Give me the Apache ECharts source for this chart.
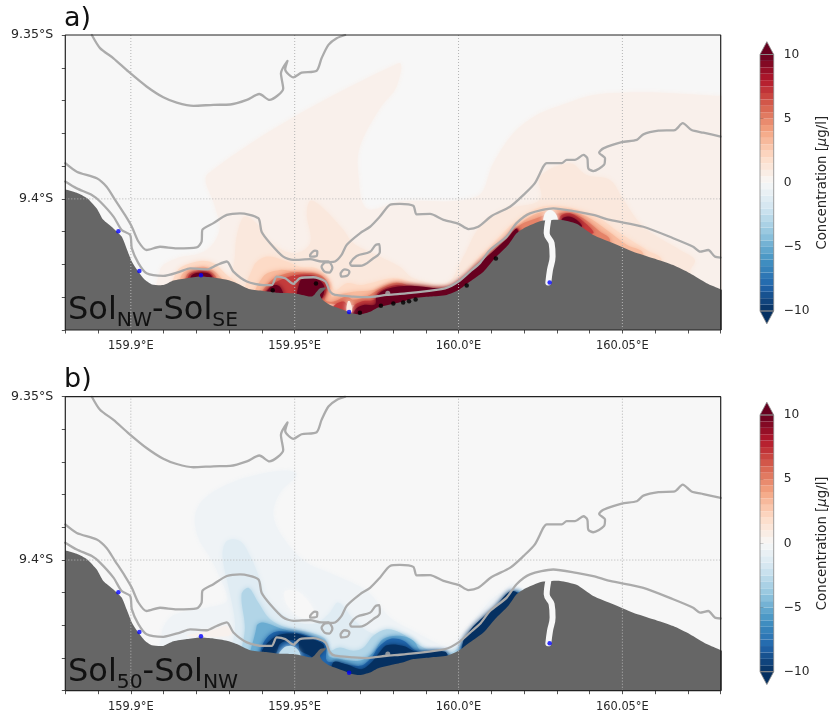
<!DOCTYPE html>
<html><head><meta charset="utf-8">
<script src="https://cdn.jsdelivr.net/npm/echarts@6/dist/echarts.min.js"></script>
<style>html,body{margin:0;padding:0;background:#fff}#c{width:832px;height:717px}</style>
</head><body><div id="c"></div><script>
const lonRange=[159.88,160.08], latRange=[-9.44,-9.35], tickStep=0.01;
const lonMajor=[159.9,159.95,160.0,160.05], lonMajorText=['159.9°E','159.95°E','160.0°E','160.05°E'];
const latMajor=[-9.35,-9.4], latMajorText=['9.35°S','9.4°S'];
const cbTicks=[-10,-5,0,5,10];
const cbEdges=[-10,-9.5,-9,-8.5,-8,-7.5,-7,-6.5,-6,-5.5,-5,-4.5,-4,-3.5,-3,-2.5,-2,-1.5,-1,-0.5,0,0.5,1,1.5,2,2.5,3,3.5,4,4.5,5,5.5,6,6.5,7,7.5,8,8.5,9,9.5,10];
const rampValues=[-10,-8,-6,-4,-2,0,2,4,6,8,10];
const rampColors=['#053061','#2166ac','#4393c3','#92c5de','#d1e5f0','#f7f7f7','#fddbc7','#f4a582','#d6604d','#b2182b','#67001f'];

const coast=[[159.87,-9.3965],[159.88,-9.3971],[159.8835,-9.3981],[159.8867,-9.3998],[159.8896,-9.4029],[159.8916,-9.4064],[159.8947,-9.409],[159.8972,-9.4115],[159.8987,-9.4151],[159.9003,-9.4191],[159.9023,-9.4222],[159.9043,-9.4247],[159.9064,-9.4261],[159.9099,-9.4263],[159.913,-9.4249],[159.9171,-9.4242],[159.9211,-9.4237],[159.9252,-9.424],[159.9293,-9.4247],[159.9323,-9.4257],[159.9364,-9.4276],[159.9404,-9.4281],[159.9445,-9.4286],[159.9496,-9.4288],[159.9537,-9.4296],[159.9552,-9.4298],[159.9562,-9.429],[159.9577,-9.4273],[159.9596,-9.4271],[159.9577,-9.4293],[159.9585,-9.4308],[159.9608,-9.4324],[159.9649,-9.4339],[159.9669,-9.4347],[159.9699,-9.4352],[159.973,-9.4344],[159.9755,-9.4331],[159.9801,-9.432],[159.9832,-9.4313],[159.9862,-9.4303],[159.9913,-9.4298],[159.9964,-9.4293],[160,-9.4278],[160.0035,-9.4252],[160.0076,-9.4222],[160.0111,-9.4181],[160.0152,-9.414],[160.0177,-9.4105],[160.0198,-9.409],[160.0238,-9.4072],[160.0259,-9.4066],[160.031,-9.4064],[160.036,-9.4076],[160.0411,-9.411],[160.0472,-9.4135],[160.0533,-9.4161],[160.0594,-9.4181],[160.0655,-9.4202],[160.0706,-9.4227],[160.0757,-9.4257],[160.08,-9.4276],[160.09,-9.433],[160.09,-9.45],[159.87,-9.45]];
const river=[[160.0274,-9.4064],[160.0269,-9.4105],[160.0284,-9.4135],[160.0287,-9.4176],[160.0279,-9.4217],[160.0274,-9.4255]];
const lineA=[[159.8881,-9.35],[159.8906,-9.354],[159.8947,-9.3571],[159.8993,-9.3612],[159.9048,-9.3657],[159.9099,-9.369],[159.914,-9.3706],[159.9191,-9.3716],[159.9252,-9.3713],[159.9303,-9.3712],[159.9354,-9.3698],[159.9392,-9.368],[159.9423,-9.3698],[159.9465,-9.3663],[159.9458,-9.3617],[159.9478,-9.3579],[159.9471,-9.3605],[159.9496,-9.3629],[159.9521,-9.3615],[159.9567,-9.3609],[159.9582,-9.3571],[159.9603,-9.353],[159.9628,-9.351],[159.9654,-9.35]];
const lineB=[[159.88,-9.3891],[159.8835,-9.3917],[159.8896,-9.3937],[159.8926,-9.3963],[159.8952,-9.4003],[159.8982,-9.4049],[159.9003,-9.4085],[159.9023,-9.413],[159.9048,-9.4156],[159.9089,-9.4146],[159.914,-9.4151],[159.9201,-9.4148],[159.9216,-9.413],[159.9218,-9.4095],[159.9252,-9.4074],[159.9293,-9.4049],[159.9333,-9.4044],[159.9389,-9.4059],[159.9399,-9.41],[159.9425,-9.4135],[159.9465,-9.4176],[159.9496,-9.4186],[159.9547,-9.4184],[159.9582,-9.4191],[159.9603,-9.4191],[159.9615,-9.421],[159.9606,-9.4225],[159.9591,-9.4222],[159.9582,-9.4207],[159.9593,-9.4194],[159.9623,-9.4191],[159.9643,-9.4171],[159.9659,-9.414],[159.9699,-9.4105],[159.973,-9.4085],[159.976,-9.4054],[159.9791,-9.4018],[159.9821,-9.4015],[159.9862,-9.4021],[159.9872,-9.4047],[159.9913,-9.4046],[159.9954,-9.4064],[160,-9.4076],[160.003,-9.4092],[160.006,-9.4085],[160.0101,-9.4052],[160.0157,-9.4024],[160.0198,-9.3988],[160.0233,-9.3952],[160.0259,-9.3901],[160.0269,-9.3891],[160.0315,-9.3891],[160.033,-9.3881],[160.0355,-9.3881],[160.0381,-9.3866],[160.0393,-9.3876],[160.0396,-9.3907],[160.0411,-9.3915],[160.0444,-9.3896],[160.0447,-9.3876],[160.0429,-9.3859],[160.0442,-9.3846],[160.0498,-9.3827],[160.0544,-9.382],[160.0564,-9.3803],[160.061,-9.3792],[160.066,-9.379],[160.0684,-9.3769],[160.0711,-9.379],[160.0747,-9.3798],[160.08,-9.381]];
const lineC=[[159.88,-9.3947],[159.8835,-9.3968],[159.8881,-9.3988],[159.8906,-9.4008],[159.8947,-9.4054],[159.8972,-9.4095],[159.8998,-9.411],[159.9003,-9.4151],[159.9023,-9.4196],[159.9048,-9.4227],[159.9099,-9.4235],[159.915,-9.4222],[159.9181,-9.4212],[159.9232,-9.4215],[159.9262,-9.4202],[159.9293,-9.4191],[159.9313,-9.4222],[159.9354,-9.4252],[159.9404,-9.4263],[159.943,-9.4263],[159.9445,-9.4237],[159.9471,-9.4242],[159.9496,-9.4259],[159.9516,-9.4242],[159.9557,-9.4239],[159.9593,-9.4252],[159.9608,-9.4283],[159.9623,-9.4293],[159.9679,-9.4298],[159.972,-9.43],[159.9781,-9.4293],[159.9821,-9.429],[159.9862,-9.4286],[159.9959,-9.4273],[160,-9.4252],[160.0035,-9.4222],[160.0065,-9.4196],[160.0096,-9.4156],[160.0147,-9.4115],[160.0177,-9.4074],[160.0218,-9.4044],[160.0289,-9.4029],[160.036,-9.4039],[160.0411,-9.4049],[160.0462,-9.4064],[160.0564,-9.4085],[160.0655,-9.412],[160.0716,-9.4146],[160.0737,-9.4161],[160.0762,-9.4156],[160.0782,-9.4176],[160.08,-9.4179]];
const island1=[[159.9547,-9.4171],[159.9562,-9.4158],[159.9569,-9.4161],[159.9567,-9.4174],[159.9547,-9.4176],[159.9547,-9.4171]];
const island2=[[159.9669,-9.4196],[159.9689,-9.4174],[159.973,-9.4161],[159.9748,-9.414],[159.9758,-9.4138],[159.976,-9.4161],[159.974,-9.4181],[159.9699,-9.4204],[159.9674,-9.4204],[159.9669,-9.4196]];
const island3=[[159.964,-9.4227],[159.9653,-9.4215],[159.9667,-9.4222],[159.9659,-9.4235],[159.9643,-9.4237],[159.964,-9.4227]];
const grayDots=[[159.9784,-9.4288]];
const blueDots=[[159.8962,-9.4099],[159.9026,-9.422],[159.9214,-9.4233],[159.9666,-9.4345],[160.0278,-9.4255]];
const blackDots=[[159.9433,-9.4279],[159.9565,-9.4258],[159.9699,-9.4347],[159.9763,-9.4326],[159.9801,-9.4319],[159.9831,-9.4316],[159.9849,-9.4312],[159.9869,-9.4307],[160.0025,-9.4264],[160.0114,-9.4182]];

// panel a: filled contour levels
const a05=[[159.9089,-9.441],[159.9089,-9.4217],[159.914,-9.4181],[159.9211,-9.4166],[159.9252,-9.4135],[159.9272,-9.4085],[159.9257,-9.4024],[159.9237,-9.3922],[159.9816,-9.3586],[159.9811,-9.3657],[159.976,-9.3724],[159.9699,-9.384],[159.9694,-9.3922],[159.972,-9.4029],[159.9821,-9.4008],[160.0055,-9.3993],[160.0106,-9.3891],[160.0167,-9.38],[160.0238,-9.3744],[160.033,-9.3708],[160.0411,-9.3683],[160.0493,-9.3676],[160.0625,-9.3676],[160.08,-9.3686],[160.09,-9.3686],[160.09,-9.45]];
const a12=[[159.9313,-9.441],[159.9318,-9.4166],[159.9325,-9.4105],[159.9348,-9.4054],[159.9394,-9.4085],[159.9415,-9.4125],[159.9496,-9.4166],[159.9547,-9.4135],[159.9537,-9.4044],[159.9549,-9.4005],[159.9588,-9.4029],[159.9649,-9.4095],[159.9679,-9.4135],[159.975,-9.4171],[159.9821,-9.4207],[159.9862,-9.4242],[159.9964,-9.4257],[160.0015,-9.4176],[160.0065,-9.4085],[160.0137,-9.4034],[160.0249,-9.4003],[160.0249,-9.3932],[160.034,-9.3891],[160.0391,-9.3927],[160.0462,-9.3942],[160.0503,-9.4003],[160.0564,-9.4085],[160.0676,-9.4156],[160.0721,-9.4186],[160.0706,-9.4222],[160.0706,-9.441]];
const a20west=[[159.913,-9.4308],[159.914,-9.4222],[159.9201,-9.4191],[159.9252,-9.4196],[159.9293,-9.4232],[159.9333,-9.4268],[159.9333,-9.4308]];
const a20main=[[159.9359,-9.4308],[159.9374,-9.4207],[159.9415,-9.4176],[159.9476,-9.4191],[159.9516,-9.4207],[159.9567,-9.4212],[159.9603,-9.4242],[159.9623,-9.4278],[159.9659,-9.4257],[159.9699,-9.4263],[159.973,-9.4257],[159.9801,-9.4242],[159.9872,-9.4257],[159.9964,-9.4268],[160.0004,-9.4247],[160.0065,-9.4176],[160.0106,-9.4135],[160.0167,-9.4074],[160.0238,-9.4029],[160.0289,-9.4021],[160.035,-9.4029],[160.0421,-9.4054],[160.0493,-9.4105],[160.0574,-9.4156],[160.062,-9.4186],[160.062,-9.4308]];
const a35west=[[159.915,-9.4308],[159.9155,-9.4232],[159.9201,-9.4209],[159.9242,-9.4212],[159.9277,-9.4242],[159.9303,-9.4268],[159.9303,-9.4308]];
const a35main=[[159.9384,-9.4308],[159.9404,-9.4237],[159.9455,-9.4217],[159.9496,-9.4222],[159.9567,-9.4227],[159.9603,-9.4257],[159.9613,-9.4298],[159.9628,-9.4293],[159.9679,-9.4283],[159.974,-9.4278],[159.9801,-9.4255],[159.9862,-9.427],[159.9969,-9.4276],[160.0015,-9.4242],[160.0076,-9.4181],[160.0127,-9.413],[160.0177,-9.4085],[160.0228,-9.4049],[160.0279,-9.4036],[160.033,-9.4036],[160.0391,-9.4054],[160.0452,-9.4095],[160.0513,-9.414],[160.0564,-9.4168],[160.0564,-9.4308]];
const a50west=[[159.9158,-9.4308],[159.9171,-9.4232],[159.9201,-9.4219],[159.9237,-9.4219],[159.9262,-9.4242],[159.9272,-9.4308]];
const a50main=[[159.9399,-9.4308],[159.9425,-9.4252],[159.9476,-9.4227],[159.9521,-9.4225],[159.9577,-9.4232],[159.9603,-9.4263],[159.9593,-9.4308],[159.9618,-9.4313],[159.9659,-9.4298],[159.9679,-9.4308],[159.972,-9.4298],[159.976,-9.4275],[159.9811,-9.4256],[159.9862,-9.4268],[159.9969,-9.4273],[160.002,-9.4242],[160.0086,-9.4181],[160.0147,-9.4125],[160.0188,-9.408],[160.0238,-9.4059],[160.0269,-9.4049],[160.033,-9.4044],[160.0371,-9.4054],[160.0432,-9.41],[160.0462,-9.4125],[160.0462,-9.4308]];
const a70west=[[159.9165,-9.4308],[159.9176,-9.4235],[159.9201,-9.4223],[159.9234,-9.4223],[159.9252,-9.4239],[159.9257,-9.4308]];
const a70mid=[[159.9404,-9.4308],[159.943,-9.4263],[159.9486,-9.4237],[159.9521,-9.4231],[159.9572,-9.4239],[159.9598,-9.4266],[159.9577,-9.4308]];
const a70bay=[[159.9618,-9.4329],[159.9649,-9.4313],[159.9664,-9.4334],[159.9669,-9.4369],[159.9618,-9.4369]];
const a70east=[[159.9674,-9.4369],[159.9679,-9.4329],[159.9704,-9.4313],[159.9745,-9.4307],[159.9755,-9.4285],[159.9811,-9.4263],[159.9862,-9.4273],[159.9969,-9.4278],[160.0025,-9.4247],[160.0096,-9.4186],[160.0157,-9.413],[160.0182,-9.409],[160.0193,-9.4207],[160.0025,-9.4369]];
const a70cape=[[160.031,-9.4054],[160.034,-9.4044],[160.0381,-9.4069],[160.0411,-9.4105],[160.031,-9.4105]];
const a100west=[[159.9179,-9.4308],[159.9183,-9.4237],[159.9201,-9.4226],[159.9232,-9.4226],[159.9247,-9.4237],[159.9252,-9.4308]];
const a100midA=[[159.9404,-9.4308],[159.943,-9.4266],[159.9455,-9.4268],[159.9465,-9.4308]];
const a100midB=[[159.9511,-9.4308],[159.9516,-9.4252],[159.9532,-9.4239],[159.9567,-9.4244],[159.959,-9.4268],[159.9577,-9.4308]];
const a100east=[[159.9679,-9.4369],[159.9684,-9.4339],[159.971,-9.4324],[159.9745,-9.4322],[159.975,-9.4297],[159.9781,-9.4275],[159.9852,-9.4265],[159.9959,-9.4272],[160.0004,-9.4249],[160.0055,-9.4204],[160.0096,-9.4168],[160.0147,-9.4122],[160.0179,-9.4092],[160.0188,-9.4207],[160.0025,-9.4369]];
const a100cape=[[160.0315,-9.4062],[160.0335,-9.4054],[160.036,-9.4064],[160.0376,-9.4085],[160.032,-9.4085]];
const a00mouth=[[160.0261,-9.4072],[160.0264,-9.4044],[160.0281,-9.4034],[160.0299,-9.4049],[160.0301,-9.4072]];
const a10bayFan=[[159.9659,-9.4344],[159.9662,-9.4313],[159.9669,-9.4313],[159.9675,-9.4344]];

// panel b: filled contour levels
const b05=[[159.9094,-9.4227],[159.912,-9.4176],[159.9171,-9.4156],[159.9232,-9.4146],[159.9293,-9.4125],[159.9272,-9.4054],[159.9242,-9.3993],[159.9206,-9.3932],[159.9196,-9.3866],[159.9221,-9.3815],[159.9293,-9.3769],[159.9384,-9.3739],[159.9476,-9.3726],[159.9506,-9.3739],[159.9455,-9.3795],[159.9435,-9.3866],[159.9476,-9.3947],[159.9537,-9.4008],[159.9618,-9.4044],[159.972,-9.4095],[159.9791,-9.4176],[159.9862,-9.4217],[159.9964,-9.4263],[160.0004,-9.4237],[160.0096,-9.4125],[160.0137,-9.4095],[160.0167,-9.4074],[160.0198,-9.4105],[160.0198,-9.441],[159.9094,-9.441]];
const b00hole=[[159.9471,-9.4095],[159.9516,-9.41],[159.9562,-9.4166],[159.9521,-9.4176],[159.9476,-9.4135]];
const bPosPatch=[[159.9171,-9.4232],[159.9232,-9.4219],[159.9272,-9.4207],[159.9293,-9.4202],[159.9308,-9.4227],[159.9252,-9.4235]];
const b15=[[159.9313,-9.441],[159.9318,-9.4196],[159.9303,-9.4105],[159.928,-9.3988],[159.9293,-9.3942],[159.9333,-9.3942],[159.9364,-9.3988],[159.9394,-9.4059],[159.9415,-9.412],[159.9486,-9.4181],[159.9557,-9.4196],[159.9603,-9.4166],[159.9633,-9.413],[159.9679,-9.4181],[159.973,-9.4222],[159.9821,-9.4247],[159.9893,-9.4268],[159.9969,-9.4276],[160.0009,-9.4257],[160.0096,-9.4176],[160.0137,-9.4125],[160.0172,-9.4095],[160.0198,-9.4105],[160.0198,-9.441]];
const b30=[[159.9338,-9.441],[159.9348,-9.4207],[159.9338,-9.4105],[159.9359,-9.4085],[159.9389,-9.413],[159.9425,-9.4181],[159.9476,-9.4207],[159.9547,-9.4222],[159.9593,-9.4242],[159.9603,-9.4278],[159.9638,-9.4268],[159.9679,-9.4278],[159.971,-9.4268],[159.974,-9.4232],[159.9781,-9.4212],[159.9821,-9.4222],[159.9903,-9.4273],[159.9969,-9.4286],[160.002,-9.4252],[160.0096,-9.4186],[160.0157,-9.4105],[160.0198,-9.4105],[160.0198,-9.441]];
const b50main=[[159.9369,-9.441],[159.9384,-9.4202],[159.9404,-9.4191],[159.9465,-9.4212],[159.9526,-9.4227],[159.9593,-9.4252],[159.9603,-9.4293],[159.9638,-9.4303],[159.9699,-9.4308],[159.974,-9.4283],[159.977,-9.4242],[159.9821,-9.4232],[159.9862,-9.4247],[159.9888,-9.428],[159.9969,-9.4293],[159.9969,-9.441]];
const b50band=[[160.0009,-9.441],[160.0009,-9.4278],[160.0025,-9.4252],[160.0096,-9.4196],[160.0157,-9.411],[160.0198,-9.4105],[160.0198,-9.441]];
const b80main=[[159.9384,-9.441],[159.9399,-9.4268],[159.9435,-9.4222],[159.9496,-9.4222],[159.9547,-9.4235],[159.9593,-9.4259],[159.9598,-9.4308],[159.9628,-9.4313],[159.9699,-9.4324],[159.9735,-9.4298],[159.9755,-9.4268],[159.9791,-9.4242],[159.9832,-9.4247],[159.9872,-9.4278],[159.9966,-9.429],[159.9966,-9.441]];
const b80band=[[160.0009,-9.441],[160.0009,-9.4268],[160.0035,-9.4232],[160.0076,-9.4196],[160.0111,-9.4156],[160.0157,-9.4105],[160.0188,-9.4105],[160.0188,-9.441]];
const b100mid=[[159.9399,-9.4283],[159.944,-9.4235],[159.9496,-9.4225],[159.9542,-9.4237],[159.959,-9.4263],[159.9562,-9.43],[159.9542,-9.429],[159.9516,-9.4276],[159.9511,-9.4252],[159.9486,-9.4245],[159.9455,-9.4257],[159.944,-9.4288]];
const b25pocket=[[159.945,-9.4298],[159.9465,-9.427],[159.9491,-9.4263],[159.9511,-9.4276],[159.9516,-9.4298]];
const b100east=[[159.9618,-9.4369],[159.9618,-9.4313],[159.9659,-9.432],[159.9704,-9.4334],[159.9735,-9.4313],[159.9755,-9.4288],[159.9781,-9.4261],[159.9832,-9.4263],[159.9872,-9.4281],[159.9959,-9.4281],[159.9964,-9.4308],[159.977,-9.4369]];
const b100band=[[160.0009,-9.441],[160.0013,-9.4255],[160.0035,-9.4215],[160.0076,-9.4174],[160.0111,-9.4144],[160.0157,-9.4096],[160.0182,-9.4105],[160.0182,-9.441]];

const fieldA=[[0.5,a05],[1.1,a12],[2,a20west],[2,a20main],[3.2,a35west],[3.2,a35main],[5,a50west],[5,a50main],[7,a70west],[7,a70mid],[7,a70bay],[7,a70east],[7,a70cape],[10,a100west],[10,a100midA],[10,a100midB],[10,a100east],[10,a100cape],[0,a00mouth],[1,a10bayFan]];
const fieldB=[[-0.4,b05],[0,b00hole],[0.4,bPosPatch],[-1.2,b15],[-3,b30],[-5,b50main],[-5,b50band],[-8,b80main],[-8,b80band],[-10,b100mid],[-2.5,b25pocket],[-10,b100east],[-10,b100band]];

const font='"DejaVu Sans"', ink='#262626', lineGray='#ababab', gridGray='#b4b4b4', land='#666666', sea='#f7f7f7';
function hex(c){return [1,3,5].map(i=>parseInt(c.substr(i,2),16));}
function colorOf(v){
  v=Math.max(-10,Math.min(10,v));
  let i=Math.min(Math.floor((v+10)/2),rampColors.length-2);
  const t=(v-rampValues[i])/2,a=hex(rampColors[i]),b=hex(rampColors[i+1]);
  return 'rgb('+a.map((x,k)=>Math.round(x+(b[k]-x)*t)).join(',')+')';
}
function polys(g,list,z,clip,smooth,blur){
  return {type:'custom',xAxisIndex:g,yAxisIndex:g,z,silent:true,clip:clip!==false,animation:false,
    data:list.map(e=>e[1][0]),encode:{x:0,y:1},
    renderItem(p,api){const e=list[p.dataIndex];return {type:'polygon',shape:{points:e[1].map(c=>api.coord(c)),smooth:smooth||0},
      style:{fill:e[0],stroke:e[2]||null,lineWidth:e[2]?0.8:0,shadowBlur:blur||0,shadowColor:blur?e[0]:null}};}};
}
function line(g,data,color,width,z,extra){
  return Object.assign({type:'line',xAxisIndex:g,yAxisIndex:g,data,showSymbol:false,symbol:'none',silent:true,z,animation:false,clip:true,
    lineStyle:{color,width,cap:'round',join:'round'}},extra||{});
}
function dots(g,data,color,size,z){return {type:'scatter',xAxisIndex:g,yAxisIndex:g,data,symbolSize:size,silent:true,z,animation:false,itemStyle:{color}};}

const series=[],grid=[],xAxis=[],yAxis=[];
function panel(g,top,height,field,withBlack){
  grid.push({left:65.3,top,width:655.4,height});
  xAxis.push({gridIndex:g,type:'value',min:lonRange[0],max:lonRange[1],interval:tickStep,splitLine:{show:false},
    axisLine:{show:false},axisTick:{length:3.5,lineStyle:{color:ink,width:0.8}},
    axisLabel:{margin:11,fontFamily:font,fontSize:11.4,color:ink,hideOverlap:false,showMinLabel:true,showMaxLabel:true,
      formatter:v=>{const i=lonMajor.findIndex(m=>Math.abs(m-v)<1e-6);return i<0?'':lonMajorText[i];}}});
  yAxis.push({gridIndex:g,type:'value',min:latRange[0],max:latRange[1],interval:tickStep,splitLine:{show:false},
    axisLine:{show:false},axisTick:{length:3.5,lineStyle:{color:ink,width:0.8}},
    axisLabel:{margin:12,fontFamily:font,fontSize:12.6,color:ink,showMinLabel:true,showMaxLabel:true,
      formatter:v=>{const i=latMajor.findIndex(m=>Math.abs(m-v)<1e-6);return i<0?'':latMajorText[i];}}});
  const corners=[[lonRange[0],latRange[0]],[lonRange[1],latRange[0]],[lonRange[1],latRange[1]],[lonRange[0],latRange[1]]];
  series.push(polys(g,[[sea,corners]],1));
  series.push(polys(g,field.map(f=>[colorOf(f[0]),f[1]]),2,true,0.35,5));
  series.push(polys(g,[[land,coast]],3,true,0.2));
  series.push(line(g,river,sea,6,4,{smooth:0.4}));
  lonMajor.forEach(v=>series.push(line(g,[[v,latRange[0]],[v,latRange[1]]],gridGray,1,5,{lineStyle:{color:gridGray,width:1,type:[1,2]}})));
  latMajor.slice(1).forEach(v=>series.push(line(g,[[lonRange[0],v],[lonRange[1],v]],gridGray,1,5,{lineStyle:{color:gridGray,width:1,type:[1,2]}})));
  [lineA,lineB,lineC].forEach(l=>series.push(line(g,l,lineGray,2.3,6,{smooth:0.25})));
  [island1,island2,island3].forEach(l=>series.push(line(g,l,lineGray,2.3,6,{smooth:0.4})));
  series.push(dots(g,grayDots,lineGray,5,7));
  if(withBlack) series.push(dots(g,blackDots,'#000000',4.5,7));
  series.push(dots(g,blueDots,'#0000ff',4.5,8));
  series.push(line(g,corners.concat([corners[0]]),'#222222',1.2,9,{clip:false,lineStyle:{color:'#222222',width:1.2}}));
}
function colorbar(g,top,height){
  grid.push({left:760,top,width:13.7,height});
  xAxis.push({gridIndex:g,type:'value',min:0,max:1,show:false});
  yAxis.push({gridIndex:g,type:'value',position:'right',min:-10,max:10,interval:5,splitLine:{show:false},axisLine:{show:false},
    axisTick:{length:3.5,lineStyle:{color:ink,width:0.8}},
    axisLabel:{margin:10,fontFamily:font,fontSize:12.2,color:ink,formatter:v=>String(v).replace('-','\u2212')},
    name:'Concentration [{i|\u03bc}g/l]',nameLocation:'middle',nameRotate:90,nameGap:42,
    nameTextStyle:{fontFamily:font,fontSize:13.3,color:ink,rich:{i:{fontFamily:font,fontSize:13.3,fontStyle:'italic',color:ink}}}});
  const cells=[];
  for(let i=0;i<cbEdges.length-1;i++){const a=cbEdges[i],b=cbEdges[i+1];cells.push([colorOf((a+b)/2),[[0,a],[1,a],[1,b],[0,b]]]);}
  const top1=[colorOf(10),[[0,10],[1,10],[0.5,11]],'#888888'], bot=[colorOf(-10),[[0,-10],[1,-10],[0.5,-11]],'#888888'];
  series.push(polys(g,cells,3,false));
  series.push(polys(g,[top1,bot],4,false));
  series.push(polys(g,[['none',[[0,-10],[1,-10],[1,10],[0,10]],'#888888']],5,false));
}
panel(0,35,295,fieldA,true);
panel(1,396.7,294,fieldB,false);
colorbar(2,54.5,256.5);
colorbar(3,415,256.7);

const big=32,sub=20.3;
const rich={m:{fontFamily:font,fontSize:big,color:'#111',lineHeight:38},s:{fontFamily:font,fontSize:sub,color:'#111',lineHeight:38,padding:[20,0,0,0]}};
function note(text,left,top,rc){return {text,left,top,padding:0,textStyle:{fontFamily:font,fontSize:rc?big:27,fontWeight:'normal',color:'#111',rich:rc?rich:undefined}};}
const title=[note('a)',64,5),note('b)',64,366),
  note('{m|Sol}{s|NW}{m|-Sol}{s|SE}',68,292,true),note('{m|Sol}{s|50}{m|-Sol}{s|NW}',68,654,true)];

echarts.init(document.getElementById('c'),null,{renderer:'canvas'}).setOption({animation:false,backgroundColor:'#fff',title,grid,xAxis,yAxis,series});
</script></body></html>
